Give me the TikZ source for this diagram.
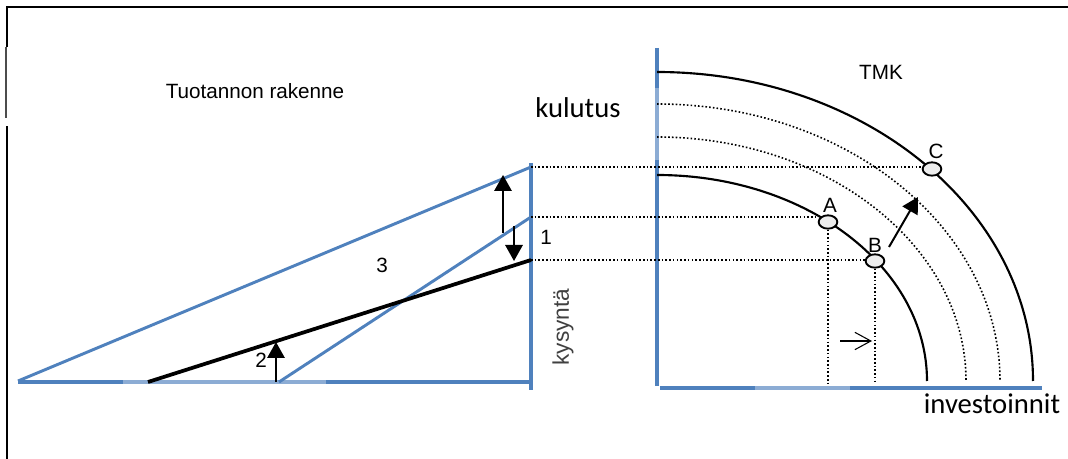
\documentclass[tikz,border=0pt]{standalone}
\usepackage{fontspec}
\setmainfont{Liberation Sans}
\newfontfamily\calibrifont{Carlito}
\usetikzlibrary{arrows.meta,shapes.geometric}

\definecolor{axisblue}{RGB}{79,129,189}
\definecolor{lightblue}{RGB}{140,172,212}

\begin{document}
\begin{tikzpicture}[x=0.75pt, y=-0.75pt,
    frame/.style={line width=1.9pt},
    axis/.style={axisblue, line width=2.6pt},
    axislight/.style={lightblue, line width=2.6pt},
    blueline/.style={axisblue, line width=2.2pt},
    ppf/.style={line width=1.6pt},
    guide/.style={line width=1.2pt, dash pattern=on 1.2pt off 1.6pt},
    arrow/.style={-{Triangle[length=12pt,width=13pt]}, line width=1.5pt},
    point/.style={ellipse, draw, line width=1.4pt, fill=black!7, minimum width=14pt, minimum height=10pt, inner sep=0pt},
    label/.style={font=\fontsize{15.5}{18}\selectfont},
    axislabel/.style={font=\calibrifont\fontsize{21.5}{26}\selectfont},
]
    \useasboundingbox (0,0) rectangle (1068,459);

    % Frame (top and left edge only)
    \draw[frame] (7,459) -- (7,126);
    \draw[black!70, line width=1pt] (6,118) -- (6,47);
    \draw[frame] (7,47) -- (7,7) -- (1068,7);

    % Left panel: production structure
    \node[label] (title) at (255,91) {Tuotannon rakenne};
    \coordinate (lo) at (18,381);
    \coordinate (lt) at (531,167);
    \coordinate (mo) at (279,382);
    \coordinate (mt) at (531,217);
    \coordinate (bo) at (148,382);
    \coordinate (bt) at (531,260);

    \draw[axis] (18,382) -- (531,382);
    \draw[axislight] (123,382) -- (326,382);
    \draw[axis] (531,163) -- (531,390);

    \draw[blueline] (lo) -- (lt);
    \draw[blueline] (mo) -- (mt);
    \draw[line width=2.8pt] (bo) -- (bt);

    % Arrows 1 and 2
    \coordinate (u1) at (503,233);
    \coordinate (u2) at (503,175);
    \coordinate (d1) at (514,226);
    \coordinate (d2) at (514,261);
    \coordinate (r1) at (276,382);
    \coordinate (r2) at (276,342);
    \draw[arrow] (u1) -- (u2);
    \draw[arrow] (d1) -- (d2);
    \draw[arrow] (r1) -- (r2);

    \node[label] (n1) at (546,237) {1};
    \node[label] (n2) at (261,360) {2};
    \node[label] (n3) at (382,265) {3};
    \node[font=\fontsize{17}{20}\selectfont, text=black!75, rotate=90] (demand) at (563,327) {kysyntä};

    % Right panel: production possibility frontiers
    \node[axislabel] (cons) at (578,108) {kulutus};
    \node[label] (tmk) at (881,72) {TMK};
    \node[axislabel] (inv) at (992,404) {investoinnit};

    \draw[axis] (657,48) -- (657,386);
    \draw[axislight] (657,88) -- (657,160);
    \draw[axis] (660,388) -- (1042,388);
    \draw[axislight] (755,388) -- (850,388);

    \draw[ppf] (657,72) arc[start angle=-90, end angle=0, x radius=376, y radius=309];
    \draw[guide] (657,104) arc[start angle=-90, end angle=0, x radius=343, y radius=277];
    \draw[guide] (657,137) arc[start angle=-90, end angle=0, x radius=309, y radius=244];
    \draw[ppf] (657,175) arc[start angle=-90, end angle=0, x radius=270, y radius=206];

    \node[point] (A) at (828,222) {};
    \node[point] (B) at (875,261) {};
    \node[point] (C) at (932,169) {};
    \node[label] at (830,205) {A};
    \node[label] at (875,245) {B};
    \node[label] at (936,151) {C};

    % Guide lines
    \coordinate (xaxis) at (0,383);
    \draw[guide] (lt) -- (lt -| C.west);
    \draw[guide] (mt) -- (mt -| A.west);
    \draw[guide] (bt) -- (bt -| B.west);
    \draw[guide] (A.south) -- (A.south |- xaxis);
    \draw[guide] (B.south) -- (B.south |- xaxis);

    % Shift arrows
    \coordinate (s1) at (889,247);
    \coordinate (s2) at (918,197);
    \draw[arrow] (s1) -- (s2);
    \coordinate (h1) at (840,341);
    \coordinate (h2) at (872,341);
    \draw[-{Straight Barb[length=12pt,width=13pt]}, line width=0.8pt] (h1) -- (h2);
\end{tikzpicture}
\end{document}
